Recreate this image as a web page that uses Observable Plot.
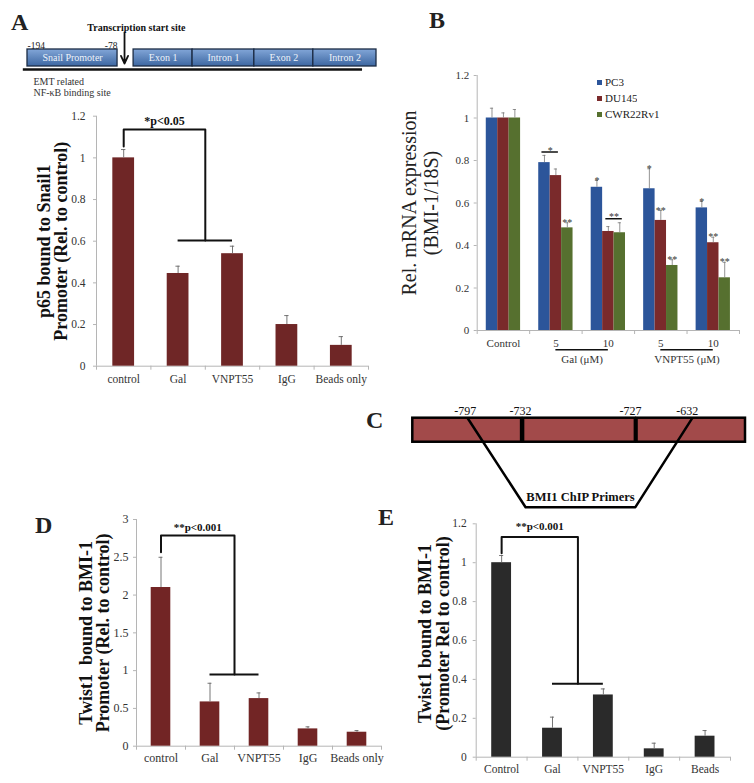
<!DOCTYPE html>
<html><head><meta charset="utf-8">
<script src="https://cdn.jsdelivr.net/npm/d3@7"></script>
<script src="https://cdn.jsdelivr.net/npm/@observablehq/plot@0.6"></script>
<style>
body{margin:0;background:#fff;}
#fig{position:relative;width:754px;height:783px;overflow:hidden;font-family:"Liberation Serif","Times New Roman",serif;color:#222;}
.panel{position:absolute;}
.panel svg{background:transparent !important;max-width:none !important;}
.letter{position:absolute;font-weight:bold;font-size:24px;line-height:1;}
#legB, #legB *{font-family:"Liberation Serif","Times New Roman",serif !important;font-size:11px !important;color:#222;}
#legB div{line-height:14px;padding-bottom:1px;margin:0;}
#legB svg{margin-right:3px !important;}
</style></head><body><div id="fig"></div>
<script>
// ---------- DATA ----------
// Panel A schematic (schematic units 0-100 along the gene)
const geneParts = ["Snail Promoter","Exon 1","Intron 1","Exon 2","Intron 2"];
const geneStart = [0, 30.4, 47.3, 65.0, 81.9];
const geneEnd   = [25.8, 47.3, 65.0, 81.9, 100];
const tssPos = 27.8;

// Panel A bars
const catsA = ["control","Gal","VNPT55","IgG","Beads only"];
const valsA = [1.0, 0.445, 0.54, 0.2, 0.1];
const errA  = [0.04, 0.035, 0.036, 0.043, 0.042];
const ticksA = [0, 0.2, 0.4, 0.6, 0.8, 1, 1.2];

// Panel B grouped bars
const groupsB = ["Control","5","10","5","10"];
const seriesB = ["PC3","DU145","CWR22Rv1"];
const colorsB = ["#2c559a","#7a2a2b","#56702f"];
const valsPC3   = [1.0, 0.79, 0.674, 0.667, 0.577];
const valsDU145 = [1.0, 0.729, 0.466, 0.518, 0.413];
const valsCWR   = [1.0, 0.483, 0.46, 0.306, 0.248];
const errPC3   = [0.046, 0.034, 0.032, 0.094, 0.03];
const errDU145 = [0.024, 0.031, 0.023, 0.047, 0.026];
const errCWR   = [0.04, 0.024, 0.047, 0.027, 0.073];
const sigPC3   = ["", "", "*", "*", "*"];
const sigDU145 = ["", "", "", "**", "**"];
const sigCWR   = ["", "**", "", "**", "**"];
const pairGroup = [1, 2], pairA = [0, 1], pairB = [1, 2], pairY = [0.84, 0.526], pairSig = ["*", "**"];
const treatNames = ["Gal (\u03bcM)", "VNPT55 (\u03bcM)"], treatFrom = [1, 3], treatTo = [2, 4];
const ticksB = [0, 0.2, 0.4, 0.6, 0.8, 1, 1.2];

// Panel C schematic (schematic units 0-100)
const segStart = [0, 33.3, 67.4];
const segEnd   = [32.7, 66.9, 100];
const posLabels = ["-797","-732","-727","-632"];
const posAt     = [15.8, 32.4, 65.4, 82.5];
const primerX   = [16.5, 33.9, 66.9, 84];
const primerLvl = [100, 0, 0, 100];

// Panel D bars
const catsD = ["control","Gal","VNPT55","IgG","Beads only"];
const valsD = [2.1, 0.586, 0.63, 0.229, 0.185];
const errD  = [0.4, 0.247, 0.075, 0.027, 0.022];
const ticksD = [0, 0.5, 1, 1.5, 2, 2.5, 3];

// Panel E bars
const catsE = ["Control","Gal","VNPT55","IgG","Beads"];
const valsE = [1.0, 0.149, 0.32, 0.043, 0.108];
const errE  = [0.037, 0.057, 0.031, 0.029, 0.029];
const ticksE = [0, 0.2, 0.4, 0.6, 0.8, 1, 1.2];

// ---------- HELPERS ----------
const SERIF = '"Liberation Serif","Times New Roman",serif';
const fig = document.getElementById("fig");
function place(node, left, top, w) {
  const d = document.createElement("div");
  d.className = "panel"; d.style.left = left + "px"; d.style.top = top + "px";
  if (w) d.style.width = w + "px";
  d.appendChild(node); fig.appendChild(d); return d;
}
function letter(t, left, top) {
  const d = document.createElement("div");
  d.className = "letter"; d.textContent = t;
  d.style.left = left + "px"; d.style.top = top + "px"; fig.appendChild(d);
}
const baseStyle = (fs) => ({background: "transparent", fontFamily: SERIF, fontSize: fs + "px", color: "#222", overflow: "visible"});

function barPanel(o) {
  const n = o.cats.length;
  const rows = o.cats.map((c, i) => ({i, c, v: o.vals[i], e: o.vals[i] + o.errs[i]}));
  const b = o.bracket;
  const mid = (b.to[0] + b.to[1]) / 2;
  const path = [{x: b.from, y: b.yLow}, {x: b.from, y: b.yTop}, {x: mid, y: b.yTop}, {x: mid, y: b.yDrop}];
  return Plot.plot({
    width: o.width, height: o.height,
    marginLeft: o.mL, marginRight: o.mR, marginTop: o.mT, marginBottom: o.mB,
    style: baseStyle(o.tickFont),
    x: {domain: [-0.5, n - 0.5]},
    y: {domain: [0, o.yMax]},
    marks: [
      Plot.ruleX([-0.5], {stroke: "#b5b5b5"}),
      Plot.ruleY([0], {stroke: "#b5b5b5"}),
      Plot.axisY({ticks: o.yTicks, tickFormat: d => String(d), tickSize: 3, tickPadding: o.yPad, stroke: "#b5b5b5", fill: "#333", label: null}),
      Plot.axisX({ticks: d3.range(n), tickFormat: i => o.cats[i], tickSize: 0, tickPadding: o.xPad, fill: "#333", label: null}),
      Plot.axisX({ticks: d3.range(n + 1).map(k => k - 0.5), tickFormat: () => "", tickSize: 4, stroke: "#b5b5b5", label: null}),
      Plot.rectY(rows, {x1: d => d.i - o.half, x2: d => d.i + o.half, y: "v", fill: o.fill}),
      Plot.ruleX(rows, {x: "i", y1: "v", y2: "e", stroke: "#666", strokeWidth: 0.9}),
      Plot.ruleY(rows, {y: "e", x1: d => d.i - 0.04, x2: d => d.i + 0.04, stroke: "#666", strokeWidth: 0.9}),
      Plot.line(path, {x: "x", y: "y", stroke: "#111", strokeWidth: 2}),
      Plot.ruleY([b.yDrop], {x1: b.to[0], x2: b.to[1], stroke: "#111", strokeWidth: 2}),
      Plot.text([b.label], {x: (b.from + mid) / 2, y: b.yText, text: d => d, fontWeight: "bold", fontSize: o.sigFont, fill: "#111"}),
      Plot.text([o.label], {frameAnchor: "left", textAnchor: "middle", lineAnchor: "middle", rotate: -90, dx: o.labelDx, dy: o.labelDy || 0, text: d => d,
        fontWeight: o.labelWeight || "bold", fontSize: o.labelFont, lineHeight: o.labelLH, fill: "#111"})
    ]
  });
}

// ---------- PANEL A: schematic ----------
const geneRows = geneParts.map((p, i) => ({p, a: geneStart[i], b: geneEnd[i]}));
const diagA = Plot.plot({
  width: 380, height: 100, marginLeft: 27, marginRight: 4, marginTop: 0, marginBottom: 0,
  style: baseStyle(10),
  x: {domain: [0, 100], axis: null}, y: {domain: [0, 100], axis: null},
  marks: [
    Plot.ruleY([31], {x1: -1.2, x2: 96, stroke: "#111", strokeWidth: 2.5}),
    Plot.rect(geneRows, {x1: "a", x2: "b", y1: 34, y2: 51, fill: "url(#gradA)", stroke: "#1b2b44", strokeWidth: 1.3}),
    Plot.text(geneRows, {x: d => (d.a + d.b) / 2, y: 42.5, text: "p", fill: "#eef3fa", fontSize: 10}),
    Plot.arrow([0], {x1: tssPos, x2: tssPos, y1: 68, y2: 37, stroke: "#111", strokeWidth: 1.8, headLength: 7, headAngle: 50}),
    Plot.text(["Transcription start site"], {x: 31.2, y: 73, text: d => d, fontWeight: "bold", fontSize: 10, fill: "#111"}),
    Plot.text(["-194"], {x: 0, y: 55, text: d => d, textAnchor: "start", fontSize: 9.5}),
    Plot.text(["-78"], {x: 25.8, y: 55, text: d => d, textAnchor: "end", fontSize: 9.5}),
    Plot.text(["EMT related\nNF-\u03baB binding site"], {x: 1.7, y: 13.5, text: d => d, textAnchor: "start", lineHeight: 1.1, fontSize: 10, fill: "#333"})
  ]
});
const defs = document.createElementNS("http://www.w3.org/2000/svg", "defs");
defs.innerHTML = '<linearGradient id="gradA" x1="0" y1="0" x2="0" y2="1"><stop offset="0" stop-color="#82a6d8"/><stop offset="1" stop-color="#3d67a1"/></linearGradient>';
diagA.insertBefore(defs, diagA.firstChild);
place(diagA, 0, 0, 380);

// ---------- PANEL A: bars ----------
place(barPanel({
  cats: catsA, vals: valsA, errs: errA, fill: "#6f2626", yMax: 1.2, yTicks: ticksA,
  width: 380, height: 300, mL: 96, mR: 12, mT: 15.7, mB: 34.3, half: 0.2,
  tickFont: 11.5, yPad: 8, xPad: 9,
  bracket: {from: 0, to: [1, 2], yLow: 1.055, yTop: 1.136, yDrop: 0.603, yText: 1.175, label: "*p<0.05"}, sigFont: 12,
  label: "p65 bound to Snail1\nPromoter (Rel. to control)", labelDx: -43.5, labelFont: 18, labelLH: 0.95
}), 0, 100, 380);

// ---------- PANEL B ----------
const valsB = [valsPC3, valsDU145, valsCWR];
const errB = [errPC3, errDU145, errCWR];
const sigB = [sigPC3, sigDU145, sigCWR];
const bw = 0.218;
const cx = (i, j) => i + (j - 1) * bw;
const rowsB = [];
seriesB.forEach((s, j) => valsB[j].forEach((v, i) => rowsB.push({s, i, j, v, e: v + errB[j][i], sig: sigB[j][i]})));
const pairs = pairGroup.map((g, k) => ({x1: cx(g, pairA[k]) - 0.22 * bw, x2: cx(g, pairB[k]) + 0.22 * bw, y: pairY[k], sig: pairSig[k]}));
const treats = treatNames.map((t, k) => ({t, a: treatFrom[k], b: treatTo[k]}));
const chartB = Plot.plot({
  width: 374, height: 390, marginLeft: 96.7, marginRight: 15, marginTop: 75, marginBottom: 60,
  style: baseStyle(11),
  x: {domain: [-0.5, 4.5]}, y: {domain: [0, 1.2]},
  color: {domain: seriesB, range: colorsB},
  marks: [
    Plot.ruleX([-0.5], {stroke: "#b5b5b5"}),
    Plot.ruleY([0], {stroke: "#b5b5b5"}),
    Plot.axisY({ticks: ticksB, tickFormat: d => String(d), tickSize: 3, tickPadding: 5, stroke: "#b5b5b5", fill: "#333", label: null}),
    Plot.axisX({ticks: d3.range(5), tickFormat: i => groupsB[i], tickSize: 0, tickPadding: 9, fill: "#333", label: null}),
    Plot.axisX({ticks: d3.range(6).map(k => k - 0.5), tickFormat: () => "", tickSize: 4, stroke: "#b5b5b5", label: null}),
    Plot.rectY(rowsB, {x1: d => cx(d.i, d.j) - bw / 2, x2: d => cx(d.i, d.j) + bw / 2, y: "v", fill: "s"}),
    Plot.ruleX(rowsB, {x: d => cx(d.i, d.j), y1: "v", y2: "e", stroke: "#777", strokeWidth: 0.8}),
    Plot.ruleY(rowsB, {y: "e", x1: d => cx(d.i, d.j) - 0.03, x2: d => cx(d.i, d.j) + 0.03, stroke: "#777", strokeWidth: 0.8}),
    Plot.text(rowsB.filter(d => d.sig), {x: d => cx(d.i, d.j), y: "e", text: "sig", fontSize: 10, fill: "#333"}),
    Plot.ruleY(pairs, {y: "y", x1: "x1", x2: "x2", stroke: "#111", strokeWidth: 1.5}),
    Plot.text(pairs, {x: d => (d.x1 + d.x2) / 2, y: "y", dy: -1.5, text: "sig", fontSize: 10, fill: "#333"}),
    Plot.ruleY(treats, {y: 0, x1: "a", x2: "b", dy: 19.3, stroke: "#111", strokeWidth: 1.5}),
    Plot.text(treats, {x: d => (d.a + d.b) / 2, y: 0, dy: 28.5, text: "t", fontSize: 11, fill: "#333"}),
    Plot.text(["Rel. mRNA expression\n(BMI-1/18S)"], {frameAnchor: "left", textAnchor: "middle", lineAnchor: "middle", rotate: -90, dx: -57.7, text: d => d, fontSize: 20, lineHeight: 1.1, fill: "#222"})
  ]
});
place(chartB, 380, 0, 374);
const legB = chartB.legend("color", {columns: 1, swatchSize: 5});
const lw = place(legB, 597, 75, 100);
lw.id = "legB";

// ---------- PANEL C ----------
const segRows = segStart.map((a, i) => ({a, b: segEnd[i]}));
const primerPath = primerX.map((x, i) => ({x, y: primerLvl[i]}));
const diagC = Plot.plot({
  width: 374, height: 120, marginLeft: 32.3, marginRight: 9, marginTop: 27.7, marginBottom: 3.3,
  style: baseStyle(12),
  x: {domain: [0, 100], axis: null}, y: {domain: [0, 100], axis: null},
  marks: [
    Plot.rect(segRows, {x1: "a", x2: "b", y1: 73, y2: 100, fill: "#a24a4a", stroke: "#000", strokeWidth: 2.5}),
    Plot.line(primerPath, {x: "x", y: "y", stroke: "#000", strokeWidth: 2.5}),
    Plot.text(posLabels, {x: (d, i) => posAt[i], y: 100, dy: -7, text: d => d, fontSize: 12, fill: "#111"}),
    Plot.text(["BMI1 ChIP Primers"], {x: (primerX[1] + primerX[2]) / 2, y: 0, dy: -10, text: d => d, fontWeight: "bold", fontSize: 12.5, fill: "#111"})
  ]
});
place(diagC, 380, 390, 374);

// ---------- PANEL D ----------
place(barPanel({
  cats: catsD, vals: valsD, errs: errD, fill: "#722525", yMax: 3, yTicks: ticksD,
  width: 382, height: 278, mL: 136, mR: 1, mT: 14, mB: 37.3, half: 0.2,
  tickFont: 12, yPad: 5, xPad: 7.5,
  bracket: {from: 0, to: [1, 2], yLow: 2.566, yTop: 2.787, yDrop: 0.948, yText: 2.89, label: "**p<0.001"}, sigFont: 11,
  label: "Twist1  bound to BMI-1\nPromoter (Rel. to control)", labelDx: -41.5, labelFont: 18, labelLH: 0.95
}), 0, 505, 382);

// ---------- PANEL E ----------
place(barPanel({
  cats: catsE, vals: valsE, errs: errE, fill: "#2a2a2a", yMax: 1.2, yTicks: ticksE,
  width: 374, height: 278, mL: 95.7, mR: 24, mT: 18.3, mB: 26.3, half: 0.195,
  tickFont: 11.5, yPad: 6.5, xPad: 7.5,
  bracket: {from: 0, to: [1, 2], yLow: 1.048, yTop: 1.132, yDrop: 0.378, yText: 1.188, label: "**p<0.001"}, sigFont: 11,
  label: "Twist1 bound to BMI-1\n(Promoter Rel to control)", labelDx: -41.7, labelDy: -7, labelFont: 18, labelLH: 1
}), 380, 505, 374);

// ---------- Panel letters ----------
letter("A", 11, 10);
letter("B", 429, 8);
letter("C", 366, 408);
letter("D", 35, 513);
letter("E", 378, 505);
</script></body></html>
